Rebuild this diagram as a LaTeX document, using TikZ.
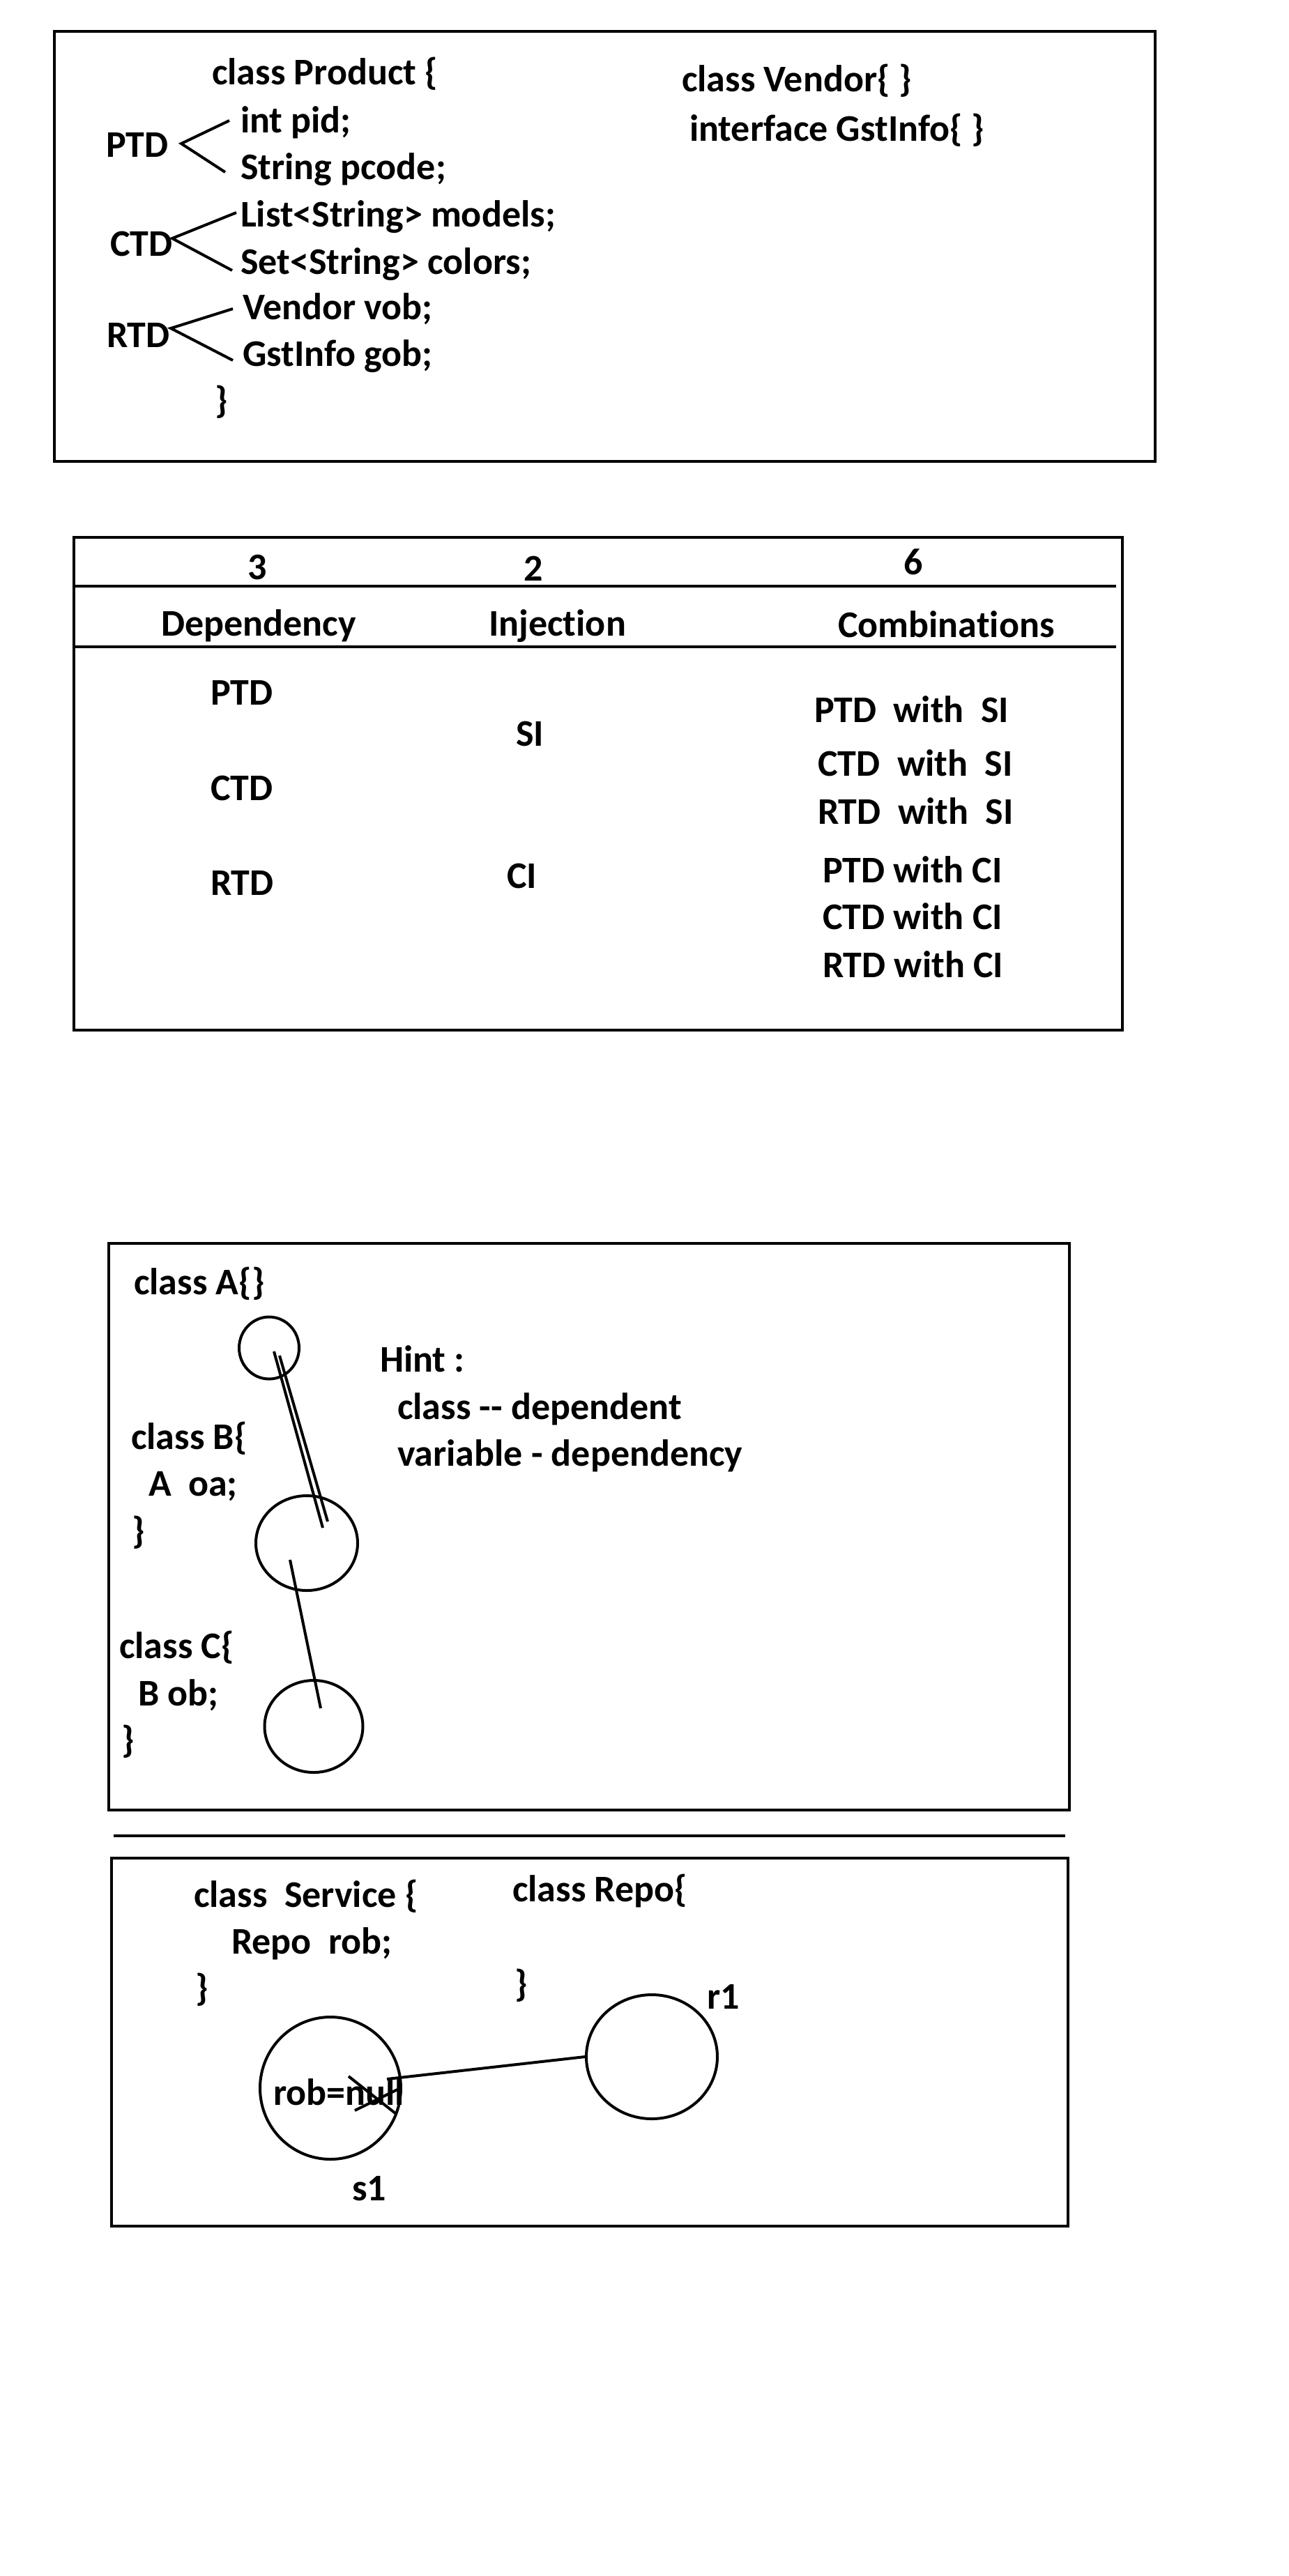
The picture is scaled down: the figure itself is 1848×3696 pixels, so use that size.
\documentclass[tikz,border=0pt]{standalone}
\usepackage{fontspec}
\setmainfont{Carlito}[Ligatures={TeX,NoCommon}]
\usetikzlibrary{shapes.geometric}

\tikzset{
  txt/.style={anchor=base west, inner sep=0pt, font=\fontsize{27}{32}\selectfont\bfseries},
  ctxt/.style={txt, anchor=base},
  box/.style={draw, line width=2.4pt},
  obj/.style={draw, ellipse, line width=2pt, inner sep=0pt},
}

\begin{document}
\begin{tikzpicture}[x=0.5pt, y=-0.5pt, line width=2pt]
  \useasboundingbox (0,0) rectangle (1848,3696);

  % class Product
  \draw[box] (78,45) rectangle (1657,662);
  \node[txt] (prod) at (302,121) {class Product \{};
  \node[txt] (pid) at (343,190) {int pid;};
  \node[txt] (pcode) at (343,257) {String pcode;};
  \node[txt] (models) at (343,325) {List<String> models;};
  \node[txt] (colors) at (343,393) {Set<String> colors;};
  \node[txt] (vob) at (346,458) {Vendor vob;};
  \node[txt] (gob) at (346,525) {GstInfo gob;};
  \node[txt] (pend) at (306,592) {\}};
  \node[txt] (vendor) at (976,131) {class Vendor\{ \}};
  \node[txt] (gst) at (987,202) {interface GstInfo\{ \}};

  \node[txt] (ptd) at (150,225) {PTD};
  \node[txt] (ctd) at (156,367) {CTD};
  \node[txt] (rtd) at (151,498) {RTD};
  \coordinate (ptdv) at (260,206);
  \coordinate (ptd1) at (329,173);
  \coordinate (ptd2) at (323,247);
  \coordinate (ctdv) at (247,342);
  \coordinate (ctd1) at (339,305);
  \coordinate (ctd2) at (333,388);
  \coordinate (rtdv) at (245,471);
  \coordinate (rtd1) at (334,443);
  \coordinate (rtd2) at (334,517);
  \draw (ptd1) -- (ptdv) -- (ptd2);
  \draw (ctd1) -- (ctdv) -- (ctd2);
  \draw (rtd1) -- (rtdv) -- (rtd2);

  % combinations table
  \draw[box] (106,771) rectangle (1610,1478);
  \coordinate (h1l) at (106,841);
  \coordinate (h1r) at (1601,841);
  \coordinate (h2l) at (106,928);
  \coordinate (h2r) at (1601,928);
  \draw[box] (h1l) -- (h1r);
  \draw[box] (h2l) -- (h2r);
  \node[ctxt] (n3) at (369,831) {3};
  \node[ctxt] (n2) at (765,833) {2};
  \node[ctxt] (n6) at (1310,824) {6};
  \node[txt] (dep) at (229,912) {Dependency};
  \node[txt] (inj) at (699,912) {Injection};
  \node[txt] (comb) at (1200,914) {Combinations};
  \node[txt] (tptd) at (300,1011) {PTD};
  \node[txt] (tctd) at (300,1148) {CTD};
  \node[txt] (trtd) at (300,1284) {RTD};
  \node[txt] (si) at (738,1070) {SI};
  \node[txt] (ci) at (725,1274) {CI};
  \node[txt] (c1) at (1166,1036) {PTD\ \ with\ \ SI};
  \node[txt] (c2) at (1171,1113) {CTD\ \ with\ \ SI};
  \node[txt] (c3) at (1171,1182) {RTD\ \ with\ \ SI};
  \node[txt] (c4) at (1178,1266) {PTD with CI};
  \node[txt] (c5) at (1178,1333) {CTD with CI};
  \node[txt] (c6) at (1178,1402) {RTD with CI};

  % classes A, B, C
  \draw[box] (156,1784) rectangle (1534,2597);
  \node[txt] (clsa) at (190,1857) {class A\{\}};
  \node[txt] (clsb) at (186,2079) {class B\{};
  \node[txt] (oa) at (211,2146) {A\ \ oa;};
  \node[txt] (bend) at (187,2214) {\}};
  \node[txt] (clsc) at (169,2379) {class C\{};
  \node[txt] (ob) at (196,2447) {B ob;};
  \node[txt] (cend) at (172,2514) {\}};
  \node[txt] (hint) at (543,1968) {Hint :};
  \node[txt] (hint1) at (568,2036) {class -{}- dependent};
  \node[txt] (hint2) at (568,2103) {variable - dependency};

  \node[obj, minimum width=43pt, minimum height=44.5pt] (oba) at (386,1934) {};
  \node[obj, minimum width=73pt, minimum height=68pt] (obb) at (440,2214) {};
  \node[obj, minimum width=70.5pt, minimum height=66pt] (obc) at (450,2477) {};
  \coordinate (ab1) at (393,1939);
  \coordinate (ab2) at (401,1945);
  \coordinate (ba1) at (463,2192);
  \coordinate (ba2) at (470,2183);
  \coordinate (bc) at (416,2238);
  \coordinate (cb) at (460,2451);
  \draw (ab1) -- (ba1);
  \draw (ab2) -- (ba2);
  \draw (bc) -- (cb);

  \draw[box] (163,2634) -- (1528,2634);

  % Service and Repo
  \draw[box] (160,2666) rectangle (1532,3194);
  \node[txt] (svc) at (276,2736) {class\ \ Service \{};
  \node[txt] (rob) at (330,2803) {Repo\ \ rob;};
  \node[txt] (send) at (278,2870) {\}};
  \node[txt] (repo) at (733,2728) {class Repo\{};
  \node[txt] (rend) at (736,2864) {\}};

  \node[obj, minimum width=101pt, minimum height=102pt] (s1) at (474,2996) {};
  \node[obj, minimum width=94pt, minimum height=89pt] (r1) at (935,2951) {};
  \node[txt] (null) at (390,3020) {rob=null};
  \node[txt] (s1l) at (503,3157) {s1};
  \node[txt] (r1l) at (1012,2882) {r1};
  \coordinate (x1a) at (500,2979);
  \coordinate (x1b) at (567,3032);
  \coordinate (x2a) at (509,3028);
  \coordinate (x2b) at (570,2998);
  \draw (x1a) -- (x1b);
  \draw (x2a) -- (x2b);
  \coordinate (link) at (555,2983);
  \draw (link) -- (r1.west);
\end{tikzpicture}
\end{document}
